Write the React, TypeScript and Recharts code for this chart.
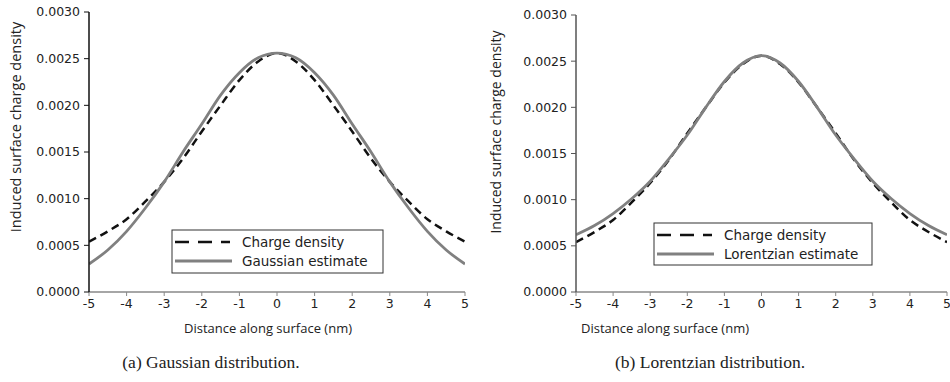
import { LineChart, Line, XAxis, YAxis } from 'recharts'

const distance = [-5, -4.5, -4, -3.5, -3, -2.5, -2, -1.5, -1, -0.5, 0, 0.5, 1, 1.5, 2, 2.5, 3, 3.5, 4, 4.5, 5]

const chargeDensity = [
  0.00054, 0.00065, 0.00078, 0.00097, 0.00118, 0.00143, 0.00172, 0.002, 0.00227, 0.00247, 0.00256,
  0.00247, 0.00227, 0.002, 0.00172, 0.00143, 0.00118, 0.00097, 0.00078, 0.00065, 0.00054,
]

const gaussianEstimate = [
  0.0003, 0.00045, 0.00065, 0.0009, 0.00118, 0.0015, 0.0018, 0.00211, 0.00235, 0.00251, 0.00256,
  0.00251, 0.00235, 0.00211, 0.0018, 0.0015, 0.00118, 0.0009, 0.00065, 0.00045, 0.0003,
]

const lorentzianEstimate = [
  0.00062, 0.00072, 0.00085, 0.00101, 0.0012, 0.00144, 0.0017, 0.002, 0.00228, 0.00248, 0.00256,
  0.00248, 0.00228, 0.002, 0.0017, 0.00144, 0.0012, 0.00101, 0.00085, 0.00072, 0.00062,
]

const xTicks = [-5, -4, -3, -2, -1, 0, 1, 2, 3, 4, 5]
const yTicks = [0, 0.0005, 0.001, 0.0015, 0.002, 0.0025, 0.003]

const gaussData = distance.map((x, i) => ({ x, charge: chargeDensity[i], fit: gaussianEstimate[i] }))
const lorentzData = distance.map((x, i) => ({ x, charge: chargeDensity[i], fit: lorentzianEstimate[i] }))

const tickFont = { fontSize: 12.5, fill: '#222', fontFamily: 'DejaVu Sans, sans-serif' }
const labelFont = 'Open Sans, sans-serif'

type PanelProps = {
  data: { x: number; charge: number; fit: number }[]
  width: number
  yAxisWidth: number
  margin: { top: number; right: number; left: number; bottom: number }
  yAxisColor: string
}

function Panel({ data, width, yAxisWidth, margin, yAxisColor }: PanelProps) {
  return (
    <LineChart width={width} height={320} data={data} margin={margin}>
      <XAxis
        dataKey="x"
        type="number"
        domain={[-5, 5]}
        ticks={xTicks}
        interval={0}
        height={28}
        tick={tickFont}
        tickSize={4}
        tickMargin={3}
        axisLine={{ stroke: '#888', strokeWidth: 1.5 }}
        tickLine={{ stroke: '#888' }}
        allowDataOverflow
      />
      <YAxis
        type="number"
        domain={[0, 0.003]}
        ticks={yTicks}
        interval={0}
        width={yAxisWidth}
        tick={tickFont}
        tickSize={5}
        tickMargin={4}
        tickFormatter={(v: number) => v.toFixed(4)}
        axisLine={{ stroke: yAxisColor, strokeWidth: 1.5 }}
        tickLine={{ stroke: yAxisColor }}
        allowDataOverflow
      />
      <Line
        type="monotone"
        dataKey="charge"
        stroke="#111"
        strokeWidth={2.5}
        strokeDasharray="8 5"
        dot={false}
        isAnimationActive={false}
      />
      <Line type="monotone" dataKey="fit" stroke="#808080" strokeWidth={2.8} dot={false} isAnimationActive={false} />
    </LineChart>
  )
}

function LegendBox({ x, y, w, h, label }: { x: number; y: number; w: number; h: number; label: string }) {
  const row1 = y + 12
  const row2 = y + 31
  return (
    <g>
      <rect x={x} y={y} width={w} height={h} fill="#fff" stroke="#333" strokeWidth={1} />
      <line x1={x + 3} x2={x + 58} y1={row1} y2={row1} stroke="#111" strokeWidth={2.5} strokeDasharray="14 9" />
      <line x1={x + 3} x2={x + 60} y1={row2} y2={row2} stroke="#808080" strokeWidth={3} />
      <text x={x + 70} y={row1} dominantBaseline="central" fontSize={13.5} fill="#222" fontFamily="DejaVu Sans, sans-serif">
        Charge density
      </text>
      <text x={x + 70} y={row2} dominantBaseline="central" fontSize={13.5} fill="#222" fontFamily="DejaVu Sans, sans-serif">
        {label}
      </text>
    </g>
  )
}

export default function App() {
  return (
    <div style={{ position: 'absolute', left: 0, top: 0, width: 950, height: 382, background: '#fff', overflow: 'hidden' }}>
      <div style={{ position: 'absolute', left: 0, top: 0 }}>
        <Panel data={gaussData} width={475} yAxisWidth={89} margin={{ top: 12, right: 10, left: 0, bottom: 0 }} yAxisColor="#111" />
      </div>
      <div style={{ position: 'absolute', left: 480, top: 0 }}>
        <Panel data={lorentzData} width={470} yAxisWidth={96} margin={{ top: 15, right: 3, left: 0, bottom: 0 }} yAxisColor="#555" />
      </div>
      <svg width={950} height={382} style={{ position: 'absolute', left: 0, top: 0, pointerEvents: 'none' }}>
        <LegendBox x={172} y={230} w={211} h={43} label="Gaussian estimate" />
        <LegendBox x={654} y={223} w={218} h={42} label="Lorentzian estimate" />

        <text x={15} y={127} transform="rotate(-90 15 127)" textAnchor="middle" dominantBaseline="central" fontSize={14.5} fill="#222" fontFamily={labelFont}>
          Induced surface charge density
        </text>
        <text x={495} y={132} transform="rotate(-90 495 132)" textAnchor="middle" dominantBaseline="central" fontSize={14} fill="#222" fontFamily={labelFont}>
          Induced surface charge density
        </text>

        <text x={268} y={328} textAnchor="middle" dominantBaseline="central" fontSize={13} fill="#222" fontFamily={labelFont}>
          Distance along surface (nm)
        </text>
        <text x={665} y={328} textAnchor="middle" dominantBaseline="central" fontSize={13} fill="#222" fontFamily={labelFont}>
          Distance along surface (nm)
        </text>

        <text x={211} y={362} textAnchor="middle" dominantBaseline="central" fontSize={17.5} fill="#222" fontFamily="Liberation Serif, serif">
          (a) Gaussian distribution.
        </text>
        <text x={710} y={362} textAnchor="middle" dominantBaseline="central" fontSize={17.5} fill="#222" fontFamily="Liberation Serif, serif">
          (b) Lorentzian distribution.
        </text>
      </svg>
    </div>
  )
}
